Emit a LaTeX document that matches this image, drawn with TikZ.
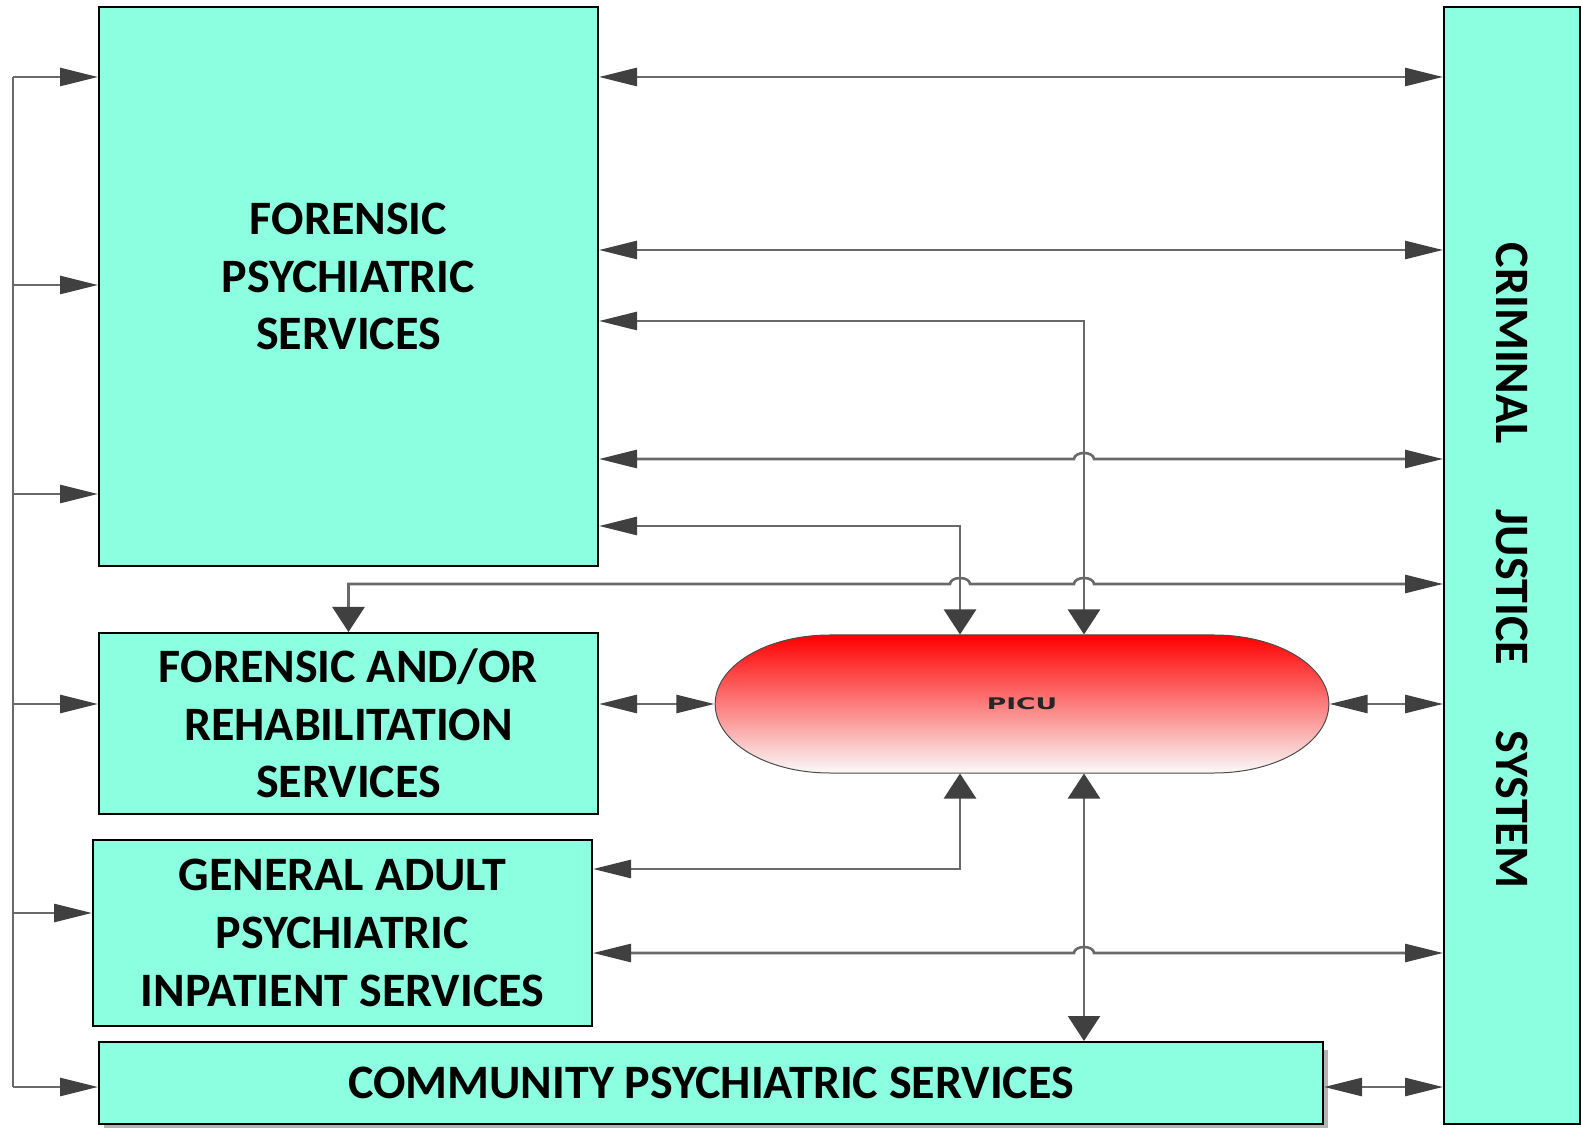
\documentclass[tikz,border=0pt]{standalone}
\usepackage{fontspec}
\setmainfont{Carlito}
\newfontfamily\picufont{DejaVu Sans}
\usepackage{tikz}
\usetikzlibrary{positioning, arrows.meta, shapes.misc, shadows, calc}
\definecolor{boxgreen}{RGB}{140,255,224}
\definecolor{linegray}{RGB}{105,105,105}
\definecolor{headgray}{RGB}{64,64,64}
\tikzset{hhead/.tip={Triangle[length=19pt, width=9pt, color=headgray]},
         vhead/.tip={Triangle[length=12.5pt, width=16pt, color=headgray]}}
\tikzstyle{box} = [rectangle, draw, line width=1pt, fill=boxgreen, align=center, inner sep=0pt, font=\bfseries\fontsize{24}{28.8}\selectfont]
\tikzstyle{boxtext} = [align=center, inner sep=0pt, font=\bfseries\fontsize{24}{28.8}\selectfont]
\tikzstyle{pill} = [rounded rectangle, draw=gray!60!black, line width=0.5pt, top color=red, bottom color=gray!4, minimum width=191.5pt, minimum height=69pt, xscale=1.66, transform shape, font=\picufont\bfseries\fontsize{8}{10}\selectfont, text=black!85]
\tikzstyle{link} = [draw=linegray, line width=1.3pt]
\tikzstyle{feed} = [link, -hhead]
\tikzstyle{both} = [link, hhead-hhead]
\tikzstyle{hv} = [link, hhead-vhead]
\tikzstyle{vh} = [link, vhead-hhead]
\tikzstyle{vv} = [link, vhead-vhead]
\newcommand{\hop}[2]{-- ($(#1 |- #2)+(-5pt,0)$) arc[start angle=180, end angle=0, x radius=5pt, y radius=3pt]}

\begin{document}
\begin{tikzpicture}[x=0.5pt, y=-0.5pt]
        \useasboundingbox (0,0) rectangle (1581,1128);
        % Nodes
        \node (forensic) [box, minimum width=249.5pt, minimum height=279.5pt] at (348.5,286.5) {};
        \node (forensictext) [boxtext] at ([yshift=5pt]forensic.center) {FORENSIC\\PSYCHIATRIC\\SERVICES};
        \node (rehab) [box, minimum width=249.5pt, minimum height=90.5pt] at (348.5,723.5) {FORENSIC AND/OR\\REHABILITATION\\SERVICES};
        \node (general) [box, minimum width=249.5pt, minimum height=93pt] at (342.5,933) {GENERAL ADULT\\PSYCHIATRIC\\INPATIENT SERVICES};
        \node (community) [box, minimum width=612pt, minimum height=41pt, drop shadow={shadow xshift=2.5pt, shadow yshift=-4pt, fill=gray, opacity=0.6}] at (711,1083) {COMMUNITY PSYCHIATRIC SERVICES};
        \node (cjs) [box, minimum width=68pt, minimum height=558.5pt] at (1512,565.5) {\rotatebox{-90}{CRIMINAL\hspace{33pt}JUSTICE\hspace{33pt}SYSTEM}};
        \node (picu) [pill] at (1022,704) {PICU};
        % Bus, drops and rows
        \coordinate (bus1) at (13,77);
        \coordinate (bus2) at (13,285);
        \coordinate (bus3) at (13,494);
        \coordinate (bus4) at (13,704);
        \coordinate (bus5) at (13,913);
        \coordinate (bus6) at (13,1087);
        \coordinate (drop1) at (960,0);
        \coordinate (drop2) at (1084,0);
        \coordinate (lvl1) at (0,77);
        \coordinate (lvl2) at (0,250);
        \coordinate (lvl3) at (0,321);
        \coordinate (lvl4) at (0,459);
        \coordinate (lvl5) at (0,526);
        \coordinate (lvl6) at (0,584);
        \coordinate (lvl7) at (0,869);
        \coordinate (lvl8) at (0,953);
        \coordinate (lvl9) at (0,1087);
        % Edges
        \path [link] (bus1) -- (bus6);
        \path [feed] (bus1) -- (forensic.west |- bus1);
        \path [feed] (bus2) -- (forensic.west |- bus2);
        \path [feed] (bus3) -- (forensic.west |- bus3);
        \path [feed] (bus4) -- (rehab.west |- bus4);
        \path [feed] (bus5) -- (general.west |- bus5);
        \path [feed] (bus6) -- (community.west |- bus6);
        \path [both] (forensic.east |- lvl1) -- (cjs.west |- lvl1);
        \path [both] (forensic.east |- lvl2) -- (cjs.west |- lvl2);
        \path [hv] (forensic.east |- lvl3) -| (picu.north -| drop2);
        \path [both] (forensic.east |- lvl4) \hop{drop2}{lvl4} -- (cjs.west |- lvl4);
        \path [hv] (forensic.east |- lvl5) -| (picu.north -| drop1);
        \path [vh] (rehab.north) -- (rehab.north |- lvl6) \hop{drop1}{lvl6} \hop{drop2}{lvl6} -- (cjs.west |- lvl6);
        \path [both] (rehab.east |- picu.west) -- (picu.west);
        \path [both] (picu.east) -- (cjs.west |- picu.east);
        \path [hv] (general.east |- lvl7) -| (picu.south -| drop1);
        \path [both] (general.east |- lvl8) \hop{drop2}{lvl8} -- (cjs.west |- lvl8);
        \path [vv] (picu.south -| drop2) -- (community.north -| drop2);
        \path [both] (community.east |- lvl9) -- (cjs.west |- lvl9);
\end{tikzpicture}
\end{document}
